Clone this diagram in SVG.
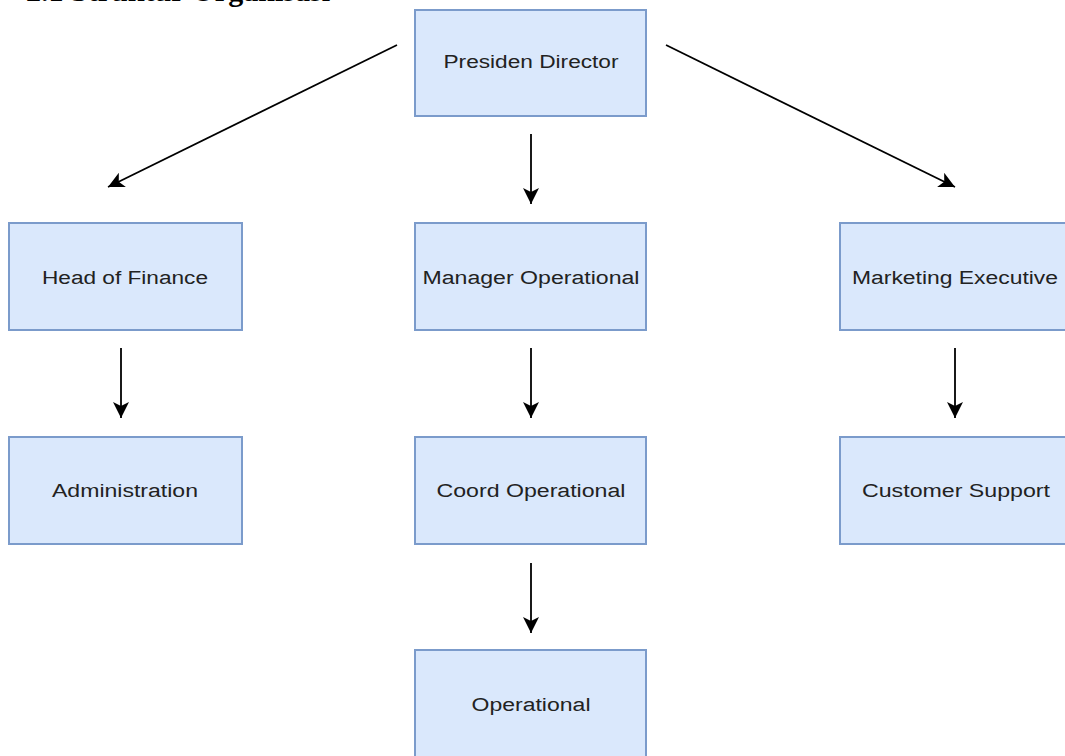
<svg xmlns="http://www.w3.org/2000/svg" width="1065" height="756" viewBox="0 0 1065 756">
  <defs>
    <marker id="arrow" viewBox="0 0 14 14" refX="14" refY="7" markerWidth="16" markerHeight="16" markerUnits="userSpaceOnUse" orient="auto">
      <path d="M0,0 L14,7 L0,14 L3.5,7 Z" fill="#000000"/>
    </marker>
  </defs>
  <style>
    .box { fill: #dae8fc; stroke: #7b9bcb; stroke-width: 2; }
    .label { font-family: "Liberation Sans", Arial, sans-serif; font-size: 18px; fill: #222222; text-anchor: middle; }
    .edge { fill: none; stroke: #000000; stroke-width: 1.8; marker-end: url(#arrow); }
    .heading { font-family: "Liberation Serif", "Times New Roman", serif; font-size: 30px; font-weight: bold; fill: #000000; }
  </style>

  <rect width="1065" height="756" fill="#ffffff"/>

  <!-- section heading, running off the top edge -->
  <text class="heading" x="26" y="0.8" textLength="304" lengthAdjust="spacingAndGlyphs">2.1 Struktur Organisasi</text>

  <!-- connectors -->
  <g id="connectors">
    <line class="edge" x1="397" y1="45" x2="108" y2="187"/>
    <line class="edge" x1="531" y1="134" x2="531" y2="204"/>
    <line class="edge" x1="666" y1="45" x2="955" y2="187"/>
    <line class="edge" x1="121" y1="348" x2="121" y2="418"/>
    <line class="edge" x1="531" y1="348" x2="531" y2="418"/>
    <line class="edge" x1="955" y1="348" x2="955" y2="418"/>
    <line class="edge" x1="531" y1="563" x2="531" y2="633"/>
  </g>

  <!-- nodes -->
  <g id="presiden-director">
    <rect class="box" x="415" y="10" width="231" height="106"/>
    <text class="label" x="531" y="68" textLength="175" lengthAdjust="spacingAndGlyphs">Presiden Director</text>
  </g>

  <g id="head-of-finance">
    <rect class="box" x="9" y="223" width="233" height="107"/>
    <text class="label" x="125" y="284" textLength="166" lengthAdjust="spacingAndGlyphs">Head of Finance</text>
  </g>

  <g id="manager-operational">
    <rect class="box" x="415" y="223" width="231" height="107"/>
    <text class="label" x="531" y="284" textLength="217" lengthAdjust="spacingAndGlyphs">Manager Operational</text>
  </g>

  <g id="marketing-executive">
    <rect class="box" x="840" y="223" width="233" height="107"/>
    <text class="label" x="955" y="284" textLength="206" lengthAdjust="spacingAndGlyphs">Marketing Executive</text>
  </g>

  <g id="administration">
    <rect class="box" x="9" y="437" width="233" height="107"/>
    <text class="label" x="125" y="497" textLength="146" lengthAdjust="spacingAndGlyphs">Administration</text>
  </g>

  <g id="coord-operational">
    <rect class="box" x="415" y="437" width="231" height="107"/>
    <text class="label" x="531" y="497" textLength="189" lengthAdjust="spacingAndGlyphs">Coord Operational</text>
  </g>

  <g id="customer-support">
    <rect class="box" x="840" y="437" width="233" height="107"/>
    <text class="label" x="956" y="497" textLength="188" lengthAdjust="spacingAndGlyphs">Customer Support</text>
  </g>

  <g id="operational">
    <rect class="box" x="415" y="650" width="231" height="110"/>
    <text class="label" x="531" y="711" textLength="119" lengthAdjust="spacingAndGlyphs">Operational</text>
  </g>
</svg>
